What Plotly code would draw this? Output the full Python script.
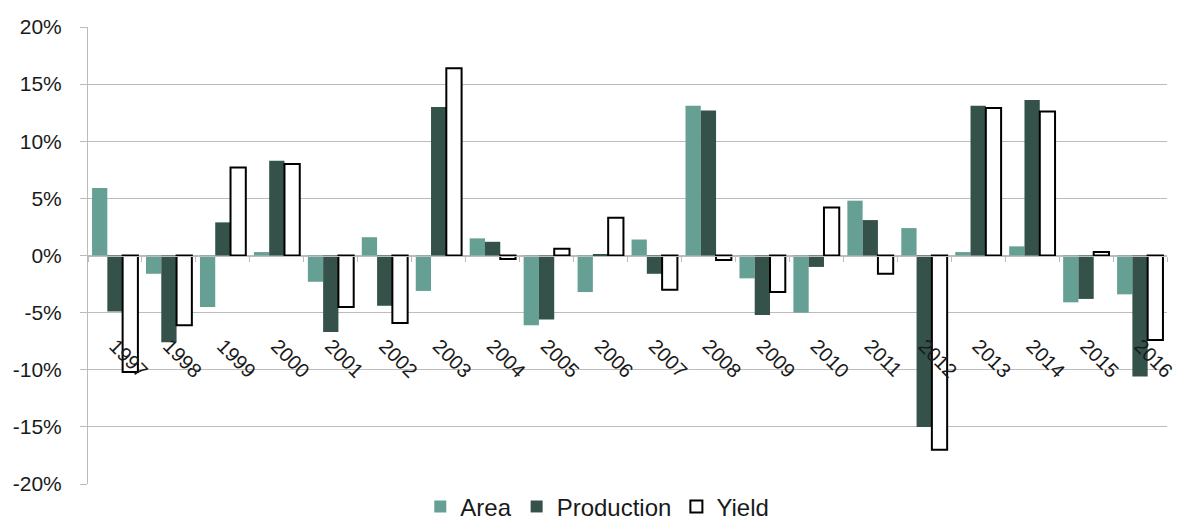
import plotly.graph_objects as go

years = [str(y) for y in range(1997, 2017)]

# Year-on-year change, percent
area = [5.9, -1.6, -4.5, 0.3, -2.3, 1.6, -3.1, 1.5, -6.1, -3.2,
        1.4, 13.1, -2.0, -5.0, 4.8, 2.4, 0.3, 0.8, -4.1, -3.4]
production = [-4.9, -7.6, 2.9, 8.3, -6.7, -4.4, 13.0, 1.2, -5.6, 0.05,
              -1.6, 12.7, -5.2, -1.0, 3.1, -15.0, 13.1, 13.6, -3.8, -10.6]
yield_ = [-10.2, -6.1, 7.7, 8.0, -4.5, -5.9, 16.4, -0.3, 0.6, 3.3,
          -3.0, -0.4, -3.2, 4.2, -1.6, -17.0, 12.9, 12.6, 0.3, -7.4]

y_ticks = [-20, -15, -10, -5, 0, 5, 10, 15, 20]
y_tick_text = ["-20%", "-15%", "-10%", "-5%", "0%", "5%", "10%", "15%", "20%"]

AREA_COLOR = "#66A094"
PROD_COLOR = "#34524A"
GRID = "#BCBCBC"
FONT = "Liberation Sans"

fig = go.Figure()
fig.add_trace(go.Bar(name="Area", x=years, y=area,
                     marker=dict(color=AREA_COLOR, line=dict(width=0))))
fig.add_trace(go.Bar(name="Production", x=years, y=production,
                     marker=dict(color=PROD_COLOR, line=dict(width=0))))
fig.add_trace(go.Bar(name="Yield", x=years, y=yield_,
                     marker=dict(color="white", line=dict(color="black", width=2))))

fig.update_layout(
    width=1180, height=522,
    margin=dict(l=88, r=13, t=27, b=38, autoexpand=False),
    paper_bgcolor="white", plot_bgcolor="white",
    barmode="group", bargap=0.15, bargroupgap=0,
    font=dict(family=FONT, size=20, color="#1a1a1a"),
    showlegend=True,
    legend=dict(orientation="h", x=0.472, xanchor="center", y=-0.05, yanchor="middle",
                font=dict(family=FONT, size=24, color="#1a1a1a"),
                itemwidth=30, traceorder="normal"),
    xaxis=dict(
        type="category",
        anchor="free", position=0.5,
        showline=True, linecolor=GRID, linewidth=1,
        ticks="outside", tickson="boundaries", ticklen=5, tickcolor=GRID,
        tickangle=45, ticklabelstandoff=70,
        tickfont=dict(family=FONT, size=20, color="#1a1a1a"),
        showgrid=False, zeroline=False,
    ),
    yaxis=dict(
        range=[-20, 20],
        tickvals=y_ticks, ticktext=y_tick_text,
        showgrid=True, gridcolor=GRID, gridwidth=1,
        zeroline=False,
        showline=True, linecolor=GRID, linewidth=1,
        ticks="outside", ticklen=7, tickcolor=GRID,
        ticklabelstandoff=14,
        tickfont=dict(family=FONT, size=21, color="#1a1a1a"),
    ),
)

fig.write_html("out.html")
